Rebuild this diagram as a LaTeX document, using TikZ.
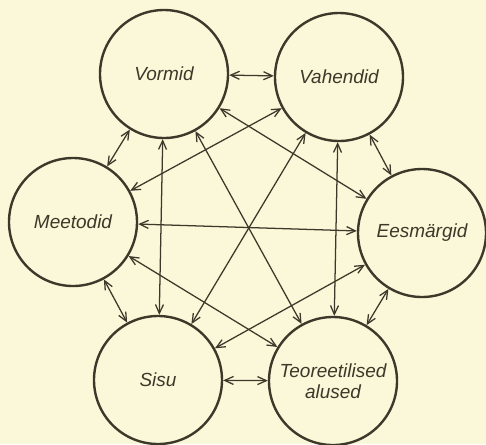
\documentclass[tikz,border=0pt]{standalone}
\usepackage{fontspec}
\setsansfont{Liberation Sans}
\usepackage{xcolor}
\usetikzlibrary{arrows.meta}

\definecolor{paper}{RGB}{250,248,216}
\definecolor{ink}{RGB}{60,56,42}

\begin{document}
\begin{tikzpicture}[x=1cm, y=1cm,
  topic/.style={draw=ink, circle, line width=1.7pt, minimum size=3.2cm,
                inner sep=0pt, align=center, text=ink,
                font=\sffamily\itshape\fontsize{13.5}{15}\selectfont},
  arr/.style={{Straight Barb[length=2.2mm,width=2mm]}-{Straight Barb[length=2.2mm,width=2mm]},
              draw=ink, line width=0.9pt}
]
\fill[paper] (0,0) rectangle (12.15,-11.1);
\useasboundingbox (0,0) rectangle (12.15,-11.1);
\node[topic] (vormid) at (4.10,-1.85) {Vormid};
\node[topic] (vahendid) at (8.475,-1.925) {Vahendid};
\node[topic] (meetodid) at (1.825,-5.55) {Meetodid};
\node[topic] (eesmargid) at (10.55,-5.825) {Eesmärgid};
\node[topic] (sisu) at (3.95,-9.5) {Sisu};
\node[topic] (alused) at (8.325,-9.525) {Teoreetilised\\alused};
% outer ring
\draw[arr] (vormid) -- (vahendid);
\draw[arr] (vahendid) -- (eesmargid);
\draw[arr] (eesmargid) -- (alused);
\draw[arr] (alused) -- (sisu);
\draw[arr] (sisu) -- (meetodid);
\draw[arr] (meetodid) -- (vormid);
% inner links
\draw[arr] (vormid) -- (sisu);
\draw[arr] (vormid) -- (eesmargid);
\draw[arr] (vormid) -- (alused);
\draw[arr] (vahendid) -- (meetodid);
\draw[arr] (vahendid) -- (sisu);
\draw[arr] (vahendid) -- (alused);
\draw[arr] (meetodid) -- (eesmargid);
\draw[arr] (meetodid) -- (alused);
\draw[arr] (eesmargid) -- (sisu);
\end{tikzpicture}
\end{document}
